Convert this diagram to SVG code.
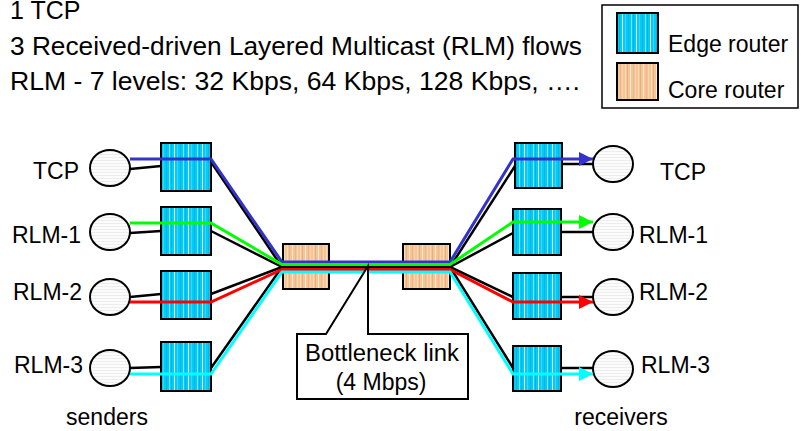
<svg xmlns="http://www.w3.org/2000/svg" width="801" height="431" viewBox="0 0 801 431">
<style>
text{font-family:"Liberation Sans",Arial,sans-serif;fill:#000}
.t{font-size:23px}
.h{font-size:25px}
.edge{fill:url(#edgePat);stroke:#000;stroke-width:2}
.core{fill:url(#corePat);stroke:#000;stroke-width:2}
.host{fill:url(#hostPat);stroke:#000;stroke-width:2}
.k{fill:none;stroke:#000;stroke-width:2.5}
.f{fill:none;stroke-width:3}
</style>
<defs>
<pattern id="edgePat" patternUnits="userSpaceOnUse" width="14" height="10">
<rect width="14" height="10" fill="#00ccf8"/>
<rect x="1" width="1" height="10" fill="#7fe2ff"/>
<rect x="3" width="1" height="10" fill="#00b0e0"/>
<rect x="6" width="1" height="10" fill="#e8faff"/>
<rect x="9" width="1" height="10" fill="#40d4fa"/>
<rect x="12" width="1" height="10" fill="#00b4e4"/>
</pattern>
<pattern id="corePat" patternUnits="userSpaceOnUse" width="13" height="10">
<rect width="13" height="10" fill="#f6c596"/>
<rect x="1" width="1" height="10" fill="#fbdcb8"/>
<rect x="3" width="1" height="10" fill="#e6b080"/>
<rect x="6" width="1" height="10" fill="#fde8d0"/>
<rect x="9" width="1" height="10" fill="#eab888"/>
<rect x="11" width="1" height="10" fill="#fad6b0"/>
</pattern>
<pattern id="hostPat" patternUnits="userSpaceOnUse" width="10" height="3">
<rect width="10" height="3" fill="#fcfcfc"/>
<rect y="1" width="10" height="1" fill="#ededed"/>
</pattern>
<marker id="aBlue" viewBox="0 0 14 14" refX="14" refY="7" markerWidth="14" markerHeight="14" markerUnits="userSpaceOnUse" orient="auto"><path d="M0,0 L14,7 L0,14 z" fill="#3333cc"/></marker>
<marker id="aGreen" viewBox="0 0 14 14" refX="14" refY="7" markerWidth="14" markerHeight="14" markerUnits="userSpaceOnUse" orient="auto"><path d="M0,0 L14,7 L0,14 z" fill="#00ff00"/></marker>
<marker id="aRed" viewBox="0 0 14 14" refX="14" refY="7" markerWidth="14" markerHeight="14" markerUnits="userSpaceOnUse" orient="auto"><path d="M0,0 L14,7 L0,14 z" fill="#ff0000"/></marker>
<marker id="aCyan" viewBox="0 0 14 14" refX="14" refY="7" markerWidth="14" markerHeight="14" markerUnits="userSpaceOnUse" orient="auto"><path d="M0,0 L14,7 L0,14 z" fill="#00ffff"/></marker>
</defs>

<g id="header">
<text class="h" x="10" y="19">1 TCP</text>
<text class="h" x="10" y="55" textLength="572" lengthAdjust="spacingAndGlyphs">3 Received-driven Layered Multicast (RLM) flows</text>
<text class="h" x="10" y="90" textLength="570" lengthAdjust="spacingAndGlyphs">RLM - 7 levels: 32 Kbps, 64 Kbps, 128 Kbps, ….</text>
</g>

<g id="legend">
<rect x="602" y="5" width="196" height="103" fill="#fff" stroke="#000" stroke-width="1.5"/>
<rect class="edge" x="617" y="13" width="41" height="40"/>
<text class="t" x="668" y="52">Edge router</text>
<rect class="core" x="617" y="63" width="41" height="37"/>
<text class="t" x="668" y="98">Core router</text>
</g>

<g id="nodes">
<g id="sender-tcp"><ellipse class="host" cx="110" cy="168" rx="20" ry="18"/><text class="t" x="79" y="179" text-anchor="end">TCP</text></g>
<g id="sender-rlm1"><ellipse class="host" cx="110" cy="232" rx="20" ry="18"/><text class="t" x="81" y="243" text-anchor="end">RLM-1</text></g>
<g id="sender-rlm2"><ellipse class="host" cx="110" cy="297" rx="20" ry="18"/><text class="t" x="82" y="300" text-anchor="end">RLM-2</text></g>
<g id="sender-rlm3"><ellipse class="host" cx="110" cy="368" rx="20" ry="18"/><text class="t" x="83" y="373" text-anchor="end">RLM-3</text></g>

<g id="edge-l1"><rect class="edge" x="161" y="143" width="50" height="48"/></g>
<g id="edge-l2"><rect class="edge" x="161" y="207" width="50" height="48"/></g>
<g id="edge-l3"><rect class="edge" x="161" y="271" width="50" height="48"/></g>
<g id="edge-l4"><rect class="edge" x="161" y="342" width="50" height="49"/></g>

<g id="core-l"><rect class="core" x="283" y="244" width="46" height="45"/></g>
<g id="core-r"><rect class="core" x="403" y="244" width="47" height="45"/></g>

<g id="edge-r1"><rect class="edge" x="515" y="143" width="47" height="45"/></g>
<g id="edge-r2"><rect class="edge" x="513" y="209" width="48" height="46"/></g>
<g id="edge-r3"><rect class="edge" x="513" y="273" width="48" height="46"/></g>
<g id="edge-r4"><rect class="edge" x="513" y="346" width="48" height="45"/></g>

<g id="recv-tcp"><ellipse class="host" cx="613" cy="164" rx="20" ry="18"/><text class="t" x="660" y="180">TCP</text></g>
<g id="recv-rlm1"><ellipse class="host" cx="613" cy="232" rx="20" ry="18"/><text class="t" x="639" y="243">RLM-1</text></g>
<g id="recv-rlm2"><ellipse class="host" cx="613" cy="297" rx="20" ry="18"/><text class="t" x="639" y="300">RLM-2</text></g>
<g id="recv-rlm3"><ellipse class="host" cx="613" cy="369" rx="20" ry="18"/><text class="t" x="641" y="373">RLM-3</text></g>
</g>

<g id="connectors">
<line class="k" x1="130" y1="169" x2="161" y2="166"/>
<line class="k" x1="130" y1="233" x2="161" y2="231"/>
<line class="k" x1="130" y1="297" x2="161" y2="294"/>
<line class="k" x1="130" y1="368" x2="161" y2="367"/>
<polyline class="k" points="211,162 282,267"/>
<polyline class="k" points="211,231 282,267"/>
<polyline class="k" points="211,294 282,267"/>
<polyline class="k" points="211,368 282,267"/>
<line class="k" x1="282" y1="267" x2="450" y2="267"/>
<polyline class="k" points="450,267 515,166"/>
<polyline class="k" points="450,267 513,233"/>
<polyline class="k" points="450,267 513,297"/>
<polyline class="k" points="450,267 513,368"/>
<line class="k" x1="562" y1="164" x2="593" y2="164"/>
<line class="k" x1="561" y1="232" x2="593" y2="232"/>
<line class="k" x1="561" y1="297" x2="593" y2="297"/>
<line class="k" x1="561" y1="368" x2="593" y2="368"/>
<polyline class="f" stroke="#3333cc" points="130,159 211,159 282,262 450,262 513,159 593,159" marker-end="url(#aBlue)"/>
<polyline class="f" stroke="#00ff00" points="130,223 211,223 282,264.5 450,264.5 513,222 593,222" marker-end="url(#aGreen)"/>
<polyline class="f" stroke="#ff0000" points="130,302 211,302 282,269.5 450,269.5 513,302 593,302" marker-end="url(#aRed)"/>
<polyline class="f" stroke="#00ffff" points="130,374 211,374 282,272 450,272 513,374 593,374" marker-end="url(#aCyan)"/>
</g>

<g id="callout">
<polygon points="297,334 326,334 368,266 368,334 468,334 468,399 297,399" fill="#fff" stroke="#000" stroke-width="2"/>
<text class="t" x="382" y="361" text-anchor="middle" textLength="154" lengthAdjust="spacingAndGlyphs">Bottleneck link</text>
<text class="t" x="381" y="390" text-anchor="middle">(4 Mbps)</text>
</g>

<g id="captions">
<text class="t" x="107" y="425" text-anchor="middle">senders</text>
<text class="t" x="621" y="425" text-anchor="middle">receivers</text>
</g>
</svg>
